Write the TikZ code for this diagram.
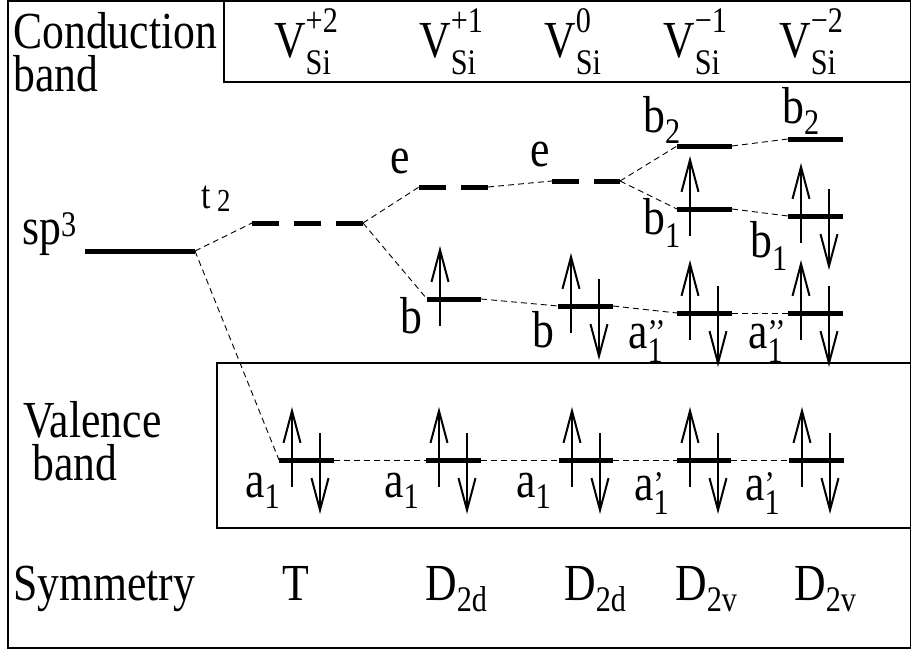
\documentclass[tikz,border=0pt]{standalone}
\usepackage{fontspec}
\setmainfont{Liberation Serif}[FakeStretch=0.84]
\usetikzlibrary{arrows.meta}
\newcommand\bigf{\fontsize{52}{58}\selectfont}
\newcommand\smallf{\fontsize{36}{40}\selectfont}
% base, sup raise, sup, sub raise, sub
\newcommand\Lab[5]{#1{\smallf\rlap{\raisebox{#2}{#3}}\rlap{\raisebox{#4}{#5}}}}
\tikzset{
  lbl/.style={inner sep=0pt, anchor=base west, font=\bigf},
  frame/.style={line width=1.2pt},
  level/.style={line width=5pt},
  dlevel/.style={level, dash pattern=on 27pt off 15pt},
  conn/.style={line width=0.9pt, dash pattern=on 6pt off 4pt},
  spin/.style={line width=2.6pt, -{Straight Barb[length=32pt,width=17pt,line width=2pt]}},
}
\newcommand\spinup[1]{\draw[spin] ([shift={(13,27)}]#1) -- ++(0,-80);}
\newcommand\spindown[1]{\draw[spin] ([shift={(41,-27)}]#1) -- ++(0,81);}
\begin{document}
\begin{tikzpicture}[x=1pt,y=-1pt]
\useasboundingbox (0,0) rectangle (912,650);
% frames
\draw[frame] (8,1) rectangle (910.5,648);
\draw[frame] (224,1) rectangle (910.5,82);
\draw[frame] (217,363) rectangle (910.5,528);

% side labels
\node[lbl] (cond) at (13,49) {Conduction};
\node[lbl] (cband) at (13,92) {band};
\node[lbl] (val) at (23,437) {Valence};
\node[lbl] (vband) at (32,480) {band};
\node[lbl] (sym) at (13,600) {Symmetry};

% charge states
\node[lbl] (vp2) at (274,58) {\Lab{V}{25pt}{+2}{-17pt}{Si}};
\node[lbl] (vp1) at (419,58) {\Lab{V}{25pt}{+1}{-17pt}{Si}};
\node[lbl] (v0)  at (544,58) {\Lab{V}{25pt}{0}{-17pt}{Si}};
\node[lbl] (vm1) at (663,58) {\Lab{V}{25pt}{−1}{-17pt}{Si}};
\node[lbl] (vm2) at (779,58) {\Lab{V}{25pt}{−2}{-17pt}{Si}};

% symmetries
\node[lbl, anchor=base] (symT) at (296,600) {T};
\node[lbl] (sd1) at (425,600) {\Lab{D}{0pt}{}{-11pt}{2d}};
\node[lbl] (sd2) at (564,600) {\Lab{D}{0pt}{}{-11pt}{2d}};
\node[lbl] (sd3) at (675,600) {\Lab{D}{0pt}{}{-11pt}{2v}};
\node[lbl] (sd4) at (794,600) {\Lab{D}{0pt}{}{-11pt}{2v}};

% level end points
\coordinate (sp3L) at (85,251);  \coordinate (sp3R) at (195,251);
\coordinate (t2L) at (252,223);  \coordinate (t2R) at (363,223);
\coordinate (e1L) at (419,187);  \coordinate (e1R) at (488,187);
\coordinate (b1L) at (427,299);  \coordinate (b1R) at (481,299);
\coordinate (e0L) at (552,181);  \coordinate (e0R) at (620,181);
\coordinate (b0L) at (558,306);  \coordinate (b0R) at (613,306);
\coordinate (bbmL) at (677,146); \coordinate (bbmR) at (732,146);
\coordinate (bamL) at (677,209); \coordinate (bamR) at (732,209);
\coordinate (aamL) at (677,313); \coordinate (aamR) at (732,313);
\coordinate (bbnL) at (788,139); \coordinate (bbnR) at (843,139);
\coordinate (banL) at (788,216); \coordinate (banR) at (843,216);
\coordinate (aanL) at (788,313); \coordinate (aanR) at (843,313);
\coordinate (aTL) at (279,460);  \coordinate (aTR) at (334,460);
\coordinate (apL) at (426,460);  \coordinate (apR) at (481,460);
\coordinate (a0L) at (559,460);  \coordinate (a0R) at (613,460);
\coordinate (amL) at (677,460);  \coordinate (amR) at (731,460);
\coordinate (anL) at (789,460);  \coordinate (anR) at (844,460);

% connectors
\draw[conn] (sp3R) -- (t2L);
\draw[conn] (sp3R) -- (aTL);
\draw[conn] (t2R) -- (e1L);
\draw[conn] (t2R) -- (b1L);
\draw[conn] (e1R) -- (e0L);
\draw[conn] (b1R) -- (b0L);
\draw[conn] (e0R) -- (bbmL);
\draw[conn] (e0R) -- (bamL);
\draw[conn] (b0R) -- (aamL);
\draw[conn] (bbmR) -- (bbnL);
\draw[conn] (bamR) -- (banL);
\draw[conn] (aamR) -- (aanL);
\draw[conn] (aTR) -- (apL);
\draw[conn] (apR) -- (a0L);
\draw[conn] (a0R) -- (amL);
\draw[conn] (amR) -- (anL);

% levels
\draw[level] (sp3L) -- (sp3R);
\draw[dlevel] (t2L) -- (t2R);
\draw[dlevel] (e1L) -- (e1R);
\draw[dlevel] (e0L) -- (e0R);
\foreach \n in {b1,b0,bbm,bam,aam,bbn,ban,aan,aT,ap,a0,am,an}
  \draw[level] (\n L) -- (\n R);

% electrons
\spinup{b1L}
\spinup{b0L}\spindown{b0L}
\spinup{bamL}
\spinup{aamL}\spindown{aamL}
\spinup{banL}\spindown{banL}
\spinup{aanL}\spindown{aanL}
\foreach \n in {aT,ap,a0,am,an} {\spinup{\n L}\spindown{\n L}}

% level labels
\node[lbl] (sp3lab) at (22,244) {sp{\fontsize{36}{40}\selectfont\raisebox{8pt}{3}}};
\node[lbl, font=\fontsize{40}{44}\selectfont] (t2lab) at (201,208) {t\,\raisebox{-3pt}{\fontsize{32}{36}\selectfont 2}};
\node[lbl] (e1lab) at (390,173) {e};
\node[lbl] (e0lab) at (530,166) {e};
\node[lbl] (b1lab) at (400,333) {b};
\node[lbl] (b0lab) at (532,347) {b};
\node[lbl] (bbmlab) at (643,132) {\Lab{b}{0pt}{}{-11pt}{2}};
\node[lbl] (bbnlab) at (782,124) {\Lab{b}{0pt}{}{-11pt}{2}};
\node[lbl] (bamlab) at (643,234) {\Lab{b}{0pt}{}{-13pt}{1}};
\node[lbl] (banlab) at (750,257) {\Lab{b}{0pt}{}{-13pt}{1}};
\node[lbl] (aamlab) at (628,348) {\Lab{a}{4pt}{’’}{-14pt}{1}};
\node[lbl] (aanlab) at (748,348) {\Lab{a}{4pt}{’’}{-14pt}{1}};
\node[lbl] (aTlab) at (245,497) {\Lab{a}{0pt}{}{-11pt}{1}};
\node[lbl] (aplab) at (384,497) {\Lab{a}{0pt}{}{-11pt}{1}};
\node[lbl] (a0lab) at (516,497) {\Lab{a}{0pt}{}{-11pt}{1}};
\node[lbl] (amlab) at (634,500) {\Lab{a}{4pt}{’}{-14pt}{1}};
\node[lbl] (anlab) at (745,500) {\Lab{a}{4pt}{’}{-14pt}{1}};
\end{tikzpicture}
\end{document}
